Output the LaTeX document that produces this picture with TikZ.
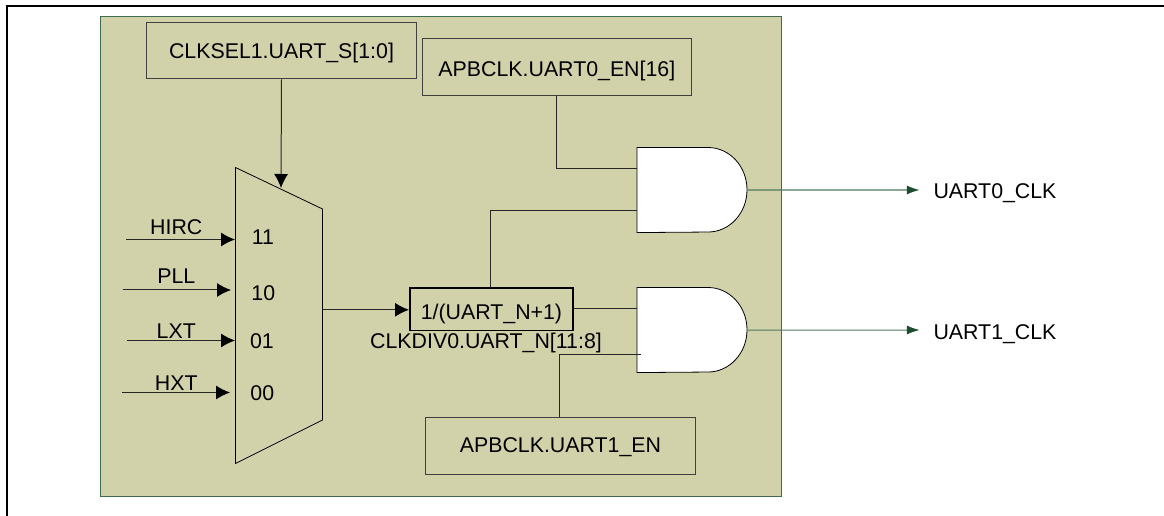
\documentclass[tikz,border=0pt]{standalone}
\usepackage{fontspec}
\setmainfont{Liberation Sans}
\usepackage{xcolor}
\usetikzlibrary{arrows.meta,positioning,calc}
\definecolor{panelfill}{HTML}{D2D2AA}
\definecolor{paneledge}{HTML}{3F6B4F}
\definecolor{outgreen}{HTML}{1B4D2E}
\definecolor{outline}{HTML}{4F7A60}

\begin{document}
\begin{tikzpicture}[
    x=0.75pt,y=-0.75pt,
    box/.style={draw=black!75,line width=0.75pt,anchor=north west,inner sep=0pt,text depth=0pt,font=\fontsize{16}{18}\selectfont},
    lbl/.style={inner sep=0pt,anchor=base,font=\fontsize{16}{18}\selectfont},
    gate/.style={anchor=north west,inner sep=0pt,minimum width=82.5pt,minimum height=63.4pt},
    wire/.style={draw=black!85,line width=0.75pt},
    >={Latex[length=10.5pt,width=10.5pt,black]}
  ]
    \useasboundingbox (0,0) rectangle (1164,516);
    \coordinate (fa) at (7,516);
    \coordinate (fb) at (7,6);
    \coordinate (fc) at (1164,6);
    \draw[line width=1.5pt] (fa) -- (fb) -- (fc);
    \node[draw=paneledge,fill=panelfill,line width=0.75pt,anchor=north west,inner sep=0pt,minimum width=511pt,minimum height=360pt] (panel) at (100,16) {};

    \node[box,text height=12.45pt,minimum width=202.5pt,minimum height=42.3pt] (sel) at (146,22) {CLKSEL1.UART\_S[1:0]};
    \node[box,text height=13.9pt,minimum width=202pt,minimum height=42.4pt] (en0) at (421.7,38.5) {APBCLK.UART0\_EN[16]};
    \node[box,text height=10.05pt,minimum width=202pt,minimum height=42.4pt] (en1) at (425.3,417) {APBCLK.UART1\_EN};
    \node[box,text height=16pt,line width=1.2pt,draw=black,minimum width=122.5pt,minimum height=32pt] (div) at (409,287) {1/(UART\_N+1)};
    \node[lbl] (divname) at (486,348.3) {CLKDIV0.UART\_N[11:8]};

    % selector
    \node[anchor=north west,inner sep=0pt,minimum width=65.25pt,minimum height=221.6pt] (mux) at (235.5,167.5) {};
    \draw[line width=0.6pt] (mux.north west) -- (322.5,209) -- (322.5,420) -- (mux.south west) -- cycle;
    \node[lbl] (s11) at (263,245) {11};
    \node[lbl] (s10) at (263.3,301) {10};
    \node[lbl] (s01) at (262,348.3) {01};
    \node[lbl] (s00) at (262.3,401) {00};

    % and gates
    \foreach \n/\y in {and0/147.5,and1/287.5}{
      \node[gate] (\n) at (637,\y) {};
      \draw[fill=white,line width=0.6pt] (\n.north west) -- ++(71,0) arc[start angle=90,end angle=-90,x radius=29.25pt,y radius=31.7pt] -- (\n.south west) -- cycle;
    }

    % inputs
    \foreach \n/\t/\x/\xe/\y/\ly in {hirc/HIRC/126/235/239.5/235,pll/PLL/122.5/231/290/283.3,lxt/LXT/127/235/340.5/339,hxt/HXT/122/230/392.5/390.7}{
      \coordinate (\n a) at (\x,\y);
      \coordinate (\n b) at (\xe,\y);
      \draw[wire,->] (\n a) -- (\n b);
      \node[lbl] (\n) at (176.3,\ly) {\t};
    }

    \coordinate (seltip) at (281,188);
    \draw[wire,->] (sel.south) -- (seltip);
    \coordinate (muxout) at (mux.east |- 0,309.8);
    \draw[wire,->] (muxout) -- (muxout -| div.west);

    % gate inputs
    \draw[wire] (en0.south -| 556.3,0) |- (and0.west |- 0,168.4);
    \draw[wire] (div.north -| 490.5,0) |- (and0.west |- 0,210.5);
    \draw[wire,line width=1.1pt] (div.east |- 0,308.3) -- (and1.west |- 0,308.3);
    \draw[wire] (en1.north -| 559.3,0) |- (640.5,354.8);

    % outputs
    \node[lbl,anchor=base west] (clk0) at (933.3,198.7) {UART0\_CLK};
    \node[lbl,anchor=base west] (clk1) at (933.3,339.3) {UART1\_CLK};
    \coordinate (tip0) at (919.5,190);
    \coordinate (tip1) at (919.5,330);
    \draw[outline,line width=0.9pt,-{Latex[length=9.5pt,width=6.8pt,outgreen]}] (and0.east) -- (tip0);
    \draw[outline,line width=0.75pt,-{Latex[length=9.5pt,width=6.8pt,outgreen]}] (and1.east) -- (tip1);
  \end{tikzpicture}
\end{document}
